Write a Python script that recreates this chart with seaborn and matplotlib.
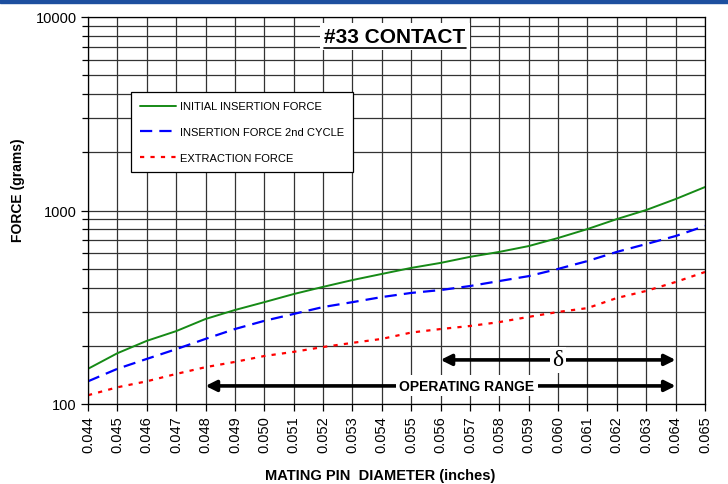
import numpy as np
import pandas as pd
import matplotlib
matplotlib.use("Agg")
import matplotlib.pyplot as plt
import seaborn as sns
from matplotlib.ticker import FixedLocator, NullFormatter, FixedFormatter
from matplotlib.patches import Rectangle
from matplotlib.lines import Line2D

diameter = [0.044, 0.045, 0.046, 0.047, 0.048, 0.049, 0.050, 0.051, 0.052, 0.053, 0.054,
            0.055, 0.056, 0.057, 0.058, 0.059, 0.060, 0.061, 0.062, 0.063, 0.064, 0.065]
initial_insertion = [152, 183, 212, 238, 275, 306, 336, 370, 403, 437, 470,
                     505, 536, 576, 611, 655, 721, 802, 903, 1006, 1146, 1322]
insertion_2nd = [131, 152, 171, 192, 217, 244, 269, 292, 317, 336, 357,
                 375, 388, 407, 432, 458, 499, 548, 611, 671, 738, 832]
extraction = [111, 122, 131, 143, 155, 165, 177, 186, 197, 207, 217,
              234, 244, 253, 265, 282, 299, 313, 353, 384, 427, 481]
series_names = ["INITIAL INSERTION FORCE", "INSERTION FORCE 2nd CYCLE", "EXTRACTION FORCE"]
x_tick_labels = ["%.3f" % d for d in diameter]
y_major = [100, 1000, 10000]
title = "#33 CONTACT"
op_range = (0.048, 0.064)
delta_range = (0.056, 0.064)

sns.set_theme(style="ticks")
plt.rcParams['font.family'] = ['Liberation Sans', 'DejaVu Sans']

fig = plt.figure(figsize=(7.28, 4.85), dpi=100)
ax = fig.add_axes([88/728, 1-405/485, (705-88)/728, (405-18)/485])

sns.lineplot(x=diameter, y=initial_insertion, ax=ax, color="#168a16", lw=1.4,
             label=series_names[0])
sns.lineplot(x=diameter, y=insertion_2nd, ax=ax, color="#0000ff", lw=1.6,
             linestyle=(0, (5.5, 3.2)), label=series_names[1])
sns.lineplot(x=diameter, y=extraction, ax=ax, color="#ff0000", lw=1.6,
             linestyle=(0, (1.9, 2.8)), label=series_names[2])

ax.set_yscale("log")
ax.set_ylim(100, 10000)
ax.set_xlim(diameter[0], diameter[-1])
ax.xaxis.set_major_locator(FixedLocator(diameter))
ax.xaxis.set_major_formatter(FixedFormatter(x_tick_labels))
ax.yaxis.set_major_locator(FixedLocator(y_major))
ax.yaxis.set_major_formatter(FixedFormatter([str(v) for v in y_major]))
minor = [m * 10**e for e in (2, 3) for m in range(2, 10)]
ax.yaxis.set_minor_locator(FixedLocator(minor))
ax.yaxis.set_minor_formatter(NullFormatter())
ax.tick_params(axis="x", labelrotation=90, labelsize=10.5, length=5, width=0.9,
               color="black", labelcolor="black", pad=3)
ax.tick_params(axis="y", which="major", labelsize=10.5, length=5, width=0.9,
               color="black", labelcolor="black", pad=3)
ax.tick_params(axis="y", which="minor", length=4, width=0.9, color="black")
ax.grid(True, which="major", axis="both", color="#333333", lw=0.9)
ax.grid(True, which="minor", axis="y", color="#333333", lw=0.9)
for s in ax.spines.values():
    s.set_color("black")
    s.set_linewidth(0.9)

ax.set_xlabel("MATING PIN  DIAMETER (inches)", fontsize=10.5, fontweight="bold",
              color="black", va="center", ha="center")
ax.set_ylabel("FORCE (grams)", fontsize=10, fontweight="bold", color="black",
              va="center", ha="center")
ax.xaxis.set_label_coords(0.473, -0.183)
ax.yaxis.set_label_coords(-0.113, 0.556)

leg = ax.legend(loc="upper left", bbox_to_anchor=((131-88)/617, (405-93)/387),
                fontsize=8, frameon=True, fancybox=False, edgecolor="black",
                framealpha=1, handlelength=3.2, handletextpad=0.35,
                labelspacing=1.4, borderpad=0.85, borderaxespad=0)
leg.get_frame().set_linewidth(0.9)
for t in leg.get_texts():
    t.set_color("black")

# arrows
ax.annotate("", xy=(op_range[0], 124), xytext=(op_range[1], 124),
            arrowprops=dict(arrowstyle="<|-|>", lw=2.6, color="black",
                            mutation_scale=16, shrinkA=0, shrinkB=0), zorder=5)
ax.text(0.0569, 124, "OPERATING RANGE", fontsize=10, fontweight="bold",
        ha="center", va="center", zorder=6, color="black",
        bbox=dict(facecolor="white", edgecolor="none", pad=2.5))
ax.annotate("", xy=(delta_range[0], 169), xytext=(delta_range[1], 169),
            arrowprops=dict(arrowstyle="<|-|>", lw=2.6, color="black",
                            mutation_scale=16, shrinkA=0, shrinkB=0), zorder=5)
ax.text(0.0600, 169, "δ", fontsize=17, family="Liberation Serif",
        ha="center", va="center", zorder=6, color="black",
        bbox=dict(facecolor="white", edgecolor="none", pad=2))

# title
tt = ax.text(0.05445, 7900, title, fontsize=15, fontweight="bold", ha="center",
             va="center", zorder=6, color="black",
             bbox=dict(facecolor="white", edgecolor="none", pad=3))

# top blue band
fig.add_artist(Rectangle((0, 1-3.5/485), 1, 3.5/485, transform=fig.transFigure,
                         color="#1d4f9f", zorder=10))

fig.canvas.draw()
bb = tt.get_window_extent()
inv = fig.transFigure.inverted()
(x0, y0), (x1, _) = inv.transform([(bb.x0, bb.y0 - 1.5), (bb.x1, bb.y0)])
fig.add_artist(Line2D([x0, x1], [y0, y0], transform=fig.transFigure,
                      color="black", lw=1.2, zorder=11))

fig.savefig("out.png", dpi=100)
